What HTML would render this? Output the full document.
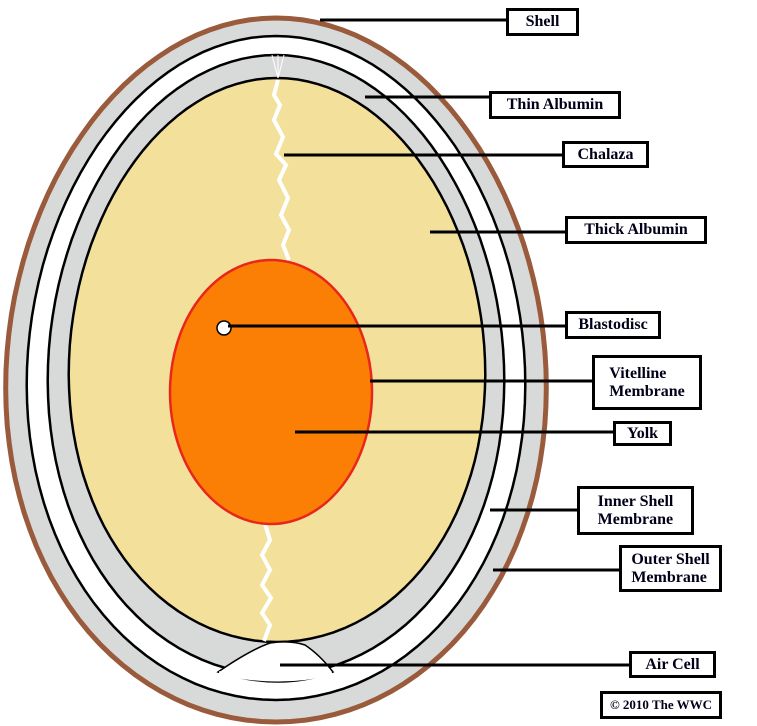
<!DOCTYPE html>
<html><head><style>
body{margin:0;background:#fff;width:757px;height:726px;overflow:hidden;position:relative}
.b{position:absolute;border:3px solid #000;background:#fff;font:bold 16px "Liberation Serif",serif;color:#000018;line-height:18px;box-sizing:border-box;padding:0 6px;display:flex;align-items:center;justify-content:center;text-align:left}
</style></head><body>
<svg id="s" width="757" height="726" style="position:absolute;left:0;top:0">
<path id="p0" fill="#d8dad9" stroke="#9a5a3c" stroke-width="5"/>
<path id="p1" fill="#fff" stroke="#000" stroke-width="2.5"/>
<path id="p2" fill="#d8dad9" stroke="#000" stroke-width="2.5"/>
<path id="p3" fill="#f3e19b" stroke="#000" stroke-width="2.5"/>
<path d="M218,672 Q250,650 270,643 Q290,640 305,645 Q320,655 333,672 Q280,692 218,672Z" fill="#fff" stroke="#000" stroke-width="1.5"/>
<path d="M219,673 Q280,686 332,673" fill="none" stroke="#fff" stroke-width="4"/>
<polyline points="278,80 274,95 280,105 274,120 283,137 276,154 286,165 279,180 288,198 281,215 289,230 283,245 289,260" fill="none" stroke="#fff" stroke-width="4"/>
<polyline points="265,524 270,540 262,555 270,570 262,585 271,598 262,613 270,625 264,641" fill="none" stroke="#fff" stroke-width="4"/>
<path d="M278,78 L272,55 M278,78 L284,55 M278,78 L278,55" stroke="#fff" stroke-width="1"/>
<ellipse cx="271" cy="392" rx="101" ry="132" fill="#fb7f04" stroke="#e8261c" stroke-width="2.5"/>
<circle cx="224" cy="328" r="7" fill="#fff" stroke="#000" stroke-width="1.5"/>
<g stroke="#000" stroke-width="3">
<line x1="320" y1="20" x2="506" y2="20"/>
<line x1="365" y1="97" x2="489" y2="97"/>
<line x1="284" y1="155" x2="562" y2="155"/>
<line x1="430" y1="232" x2="565" y2="232"/>
<line x1="228" y1="326" x2="565" y2="326"/>
<line x1="370" y1="381" x2="592" y2="381"/>
<line x1="295" y1="432" x2="613" y2="432"/>
<line x1="490" y1="510" x2="577" y2="510"/>
<line x1="493" y1="570" x2="619" y2="570"/>
<line x1="280" y1="665" x2="629" y2="665"/>
</g>
</svg>
<script>
function egg(id,cx,cy,rx,ry,k){var d="";for(var i=0;i<=120;i++){var t=i/120*2*Math.PI;var s=Math.sin(t);var x=cx+rx*Math.cos(t)*(1+k*s);var y=cy+ry*s;d+=(i?"L":"M")+x.toFixed(1)+","+y.toFixed(1);}document.getElementById(id).setAttribute("d",d+"Z");}
egg("p0",276,370,270,352,0.05);
egg("p1",276,368,249,332,0.05);
egg("p2",276,365,228,310,0.05);
egg("p3",277,360,208,282,0.05);
</script>
<div class="b" style="left:506px;top:8px;width:73px;height:28px">Shell</div>
<div class="b" style="left:489px;top:91px;width:132px;height:28px">Thin Albumin</div>
<div class="b" style="left:562px;top:141px;width:87px;height:27px">Chalaza</div>
<div class="b" style="left:565px;top:216px;width:142px;height:28px">Thick Albumin</div>
<div class="b" style="left:565px;top:311px;width:96px;height:28px">Blastodisc</div>
<div class="b" style="left:592px;top:355px;width:110px;height:55px">Vitelline<br>Membrane</div>
<div class="b" style="left:613px;top:421px;width:59px;height:25px">Yolk</div>
<div class="b" style="left:577px;top:486px;width:117px;height:49px">Inner Shell<br>Membrane</div>
<div class="b" style="left:619px;top:545px;width:103px;height:47px">Outer Shell<br>Membrane</div>
<div class="b" style="left:629px;top:651px;width:87px;height:27px">Air Cell</div>
<div class="b" style="left:600px;top:691px;width:122px;height:28px;font-size:13px;padding:0">© 2010 The WWC</div>
</body></html>
